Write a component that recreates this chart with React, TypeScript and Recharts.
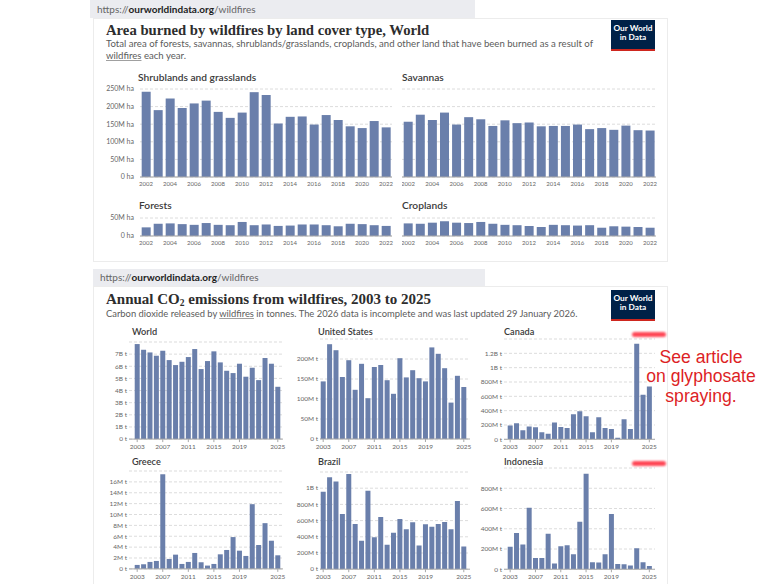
import React from "react";
import { BarChart, Bar, XAxis, YAxis, CartesianGrid } from "recharts";

// Two OWID wildfire screenshots stacked: land cover area (top), CO2 by country (bottom).

const LAND_YEARS = [
  2002, 2003, 2004, 2005, 2006, 2007, 2008, 2009, 2010, 2011, 2012, 2013, 2014,
  2015, 2016, 2017, 2018, 2019, 2020, 2021, 2022,
];
const LAND_TICKS = [2002, 2004, 2006, 2008, 2010, 2012, 2014, 2016, 2018, 2020, 2022];

const CO2_YEARS = [
  2003, 2004, 2005, 2006, 2007, 2008, 2009, 2010, 2011, 2012, 2013, 2014, 2015,
  2016, 2017, 2018, 2019, 2020, 2021, 2022, 2023, 2024, 2025,
];
const CO2_TICKS = [2003, 2007, 2011, 2015, 2019, 2025];

// million hectares
const SHRUB = [242, 190, 223, 196, 209, 217, 185, 168, 183, 241, 233, 152, 171, 172, 149, 176, 162, 144, 139, 159, 141];
const SAVANNA = [157, 177, 162, 183, 149, 170, 164, 145, 161, 153, 155, 144, 145, 145, 149, 136, 139, 134, 146, 133, 132];
const FOREST = [24, 34, 35, 33, 31, 36, 31, 30, 39, 30, 32, 28, 29, 32, 32, 30, 27, 34, 33, 30, 28];
const CROPLAND = [35, 34, 37, 41, 37, 36, 39, 34, 31, 30, 28, 25, 31, 30, 29, 30, 23, 27, 26, 25, 23];

// world in billion t, the rest in million t
const WORLD = [7.83, 7.36, 7.14, 6.87, 7.28, 6.51, 6.1, 6.37, 6.76, 7.42, 5.77, 6.43, 7.23, 6.32, 5.63, 5.44, 6.21, 5.14, 5.88, 4.86, 6.68, 6.21, 4.31];
const US = [144, 237, 222, 155, 197, 123, 188, 102, 180, 185, 147, 113, 202, 154, 172, 152, 144, 229, 213, 177, 91, 158, 130];
const CANADA = [192, 224, 126, 178, 168, 98, 79, 234, 173, 159, 350, 393, 322, 98, 308, 159, 145, 23, 280, 145, 1332, 621, 738];
const GREECE = [0.73, 0.85, 1.28, 1.46, 17.4, 1.83, 2.62, 0.91, 1.28, 2.93, 1.22, 0.61, 0.91, 2.68, 3.48, 5.85, 3.35, 2.38, 11.9, 4.39, 8.41, 5.18, 2.5];
const BRAZIL = [955, 1136, 1083, 682, 1174, 558, 351, 967, 393, 645, 302, 450, 620, 492, 579, 293, 554, 525, 558, 583, 492, 843, 281];
const INDONESIA = [221, 357, 245, 608, 112, 112, 350, 56, 228, 238, 149, 469, 942, 69, 66, 149, 545, 53, 50, 36, 208, 69, 33];

const HA_TICKS = [0, 50, 100, 150, 200, 250];
const HA_TICKS_SMALL = [0, 50];
const WORLD_TICKS = [0, 1, 2, 3, 4, 5, 6, 7];
const US_TICKS = [0, 50, 100, 150, 200];
const CANADA_TICKS = [0, 200, 400, 600, 800, 1000, 1200];
const GREECE_TICKS = [0, 2, 4, 6, 8, 10, 12, 14, 16];
const BRAZIL_TICKS = [0, 200, 400, 600, 800, 1000];
const INDONESIA_TICKS = [0, 200, 400, 600, 800];

const BAR = "#6a7fab";
const LATO = "Lato, 'Noto Sans', sans-serif";
const SERIF = "'Liberation Serif', 'DejaVu Serif', serif";

const rows = (years: number[], values: number[]) =>
  years.map((year, i) => ({ year, value: values[i] }));

const ha = (v: number) => (v === 0 ? "0 ha" : `${v}M ha`);
const bt = (v: number) => (v === 0 ? "0 t" : `${v}B t`);
const mt = (v: number) =>
  v === 0 ? "0 t" : v >= 1000 ? `${v / 1000}B t` : `${v}M t`;

type PanelProps = {
  data: { year: number; value: number }[];
  x: number;
  w: number;
  yw: number;
  plotTop: number;
  plotBottom: number;
  max: number;
  yTicks: number[];
  yFmt: (v: number) => string;
  yGap?: number;
  xTicks: number[];
  gap: string;
  xFont: number;
  yFont: number;
  padL?: number;
  padR?: number;
  tickLine?: boolean;
};

const MR = 10; // room on the right for the last year label

function Panel(p: PanelProps) {
  const top = p.plotTop - 5;
  const h = p.plotBottom - top + 16;
  // plain text so "250M ha" never wraps
  const yTick = (t: any) => (
    <text
      x={t.x}
      y={t.y}
      dy={p.yFont * 0.35}
      textAnchor="end"
      fontSize={p.yFont}
      fill="#666"
      fontFamily={LATO}
    >
      {p.yFmt(t.payload.value)}
    </text>
  );
  return (
    <div style={{ position: "absolute", left: p.x, top }}>
      <BarChart
        width={p.w + MR}
        height={h}
        data={p.data}
        margin={{ top: 5, right: MR, bottom: 0, left: 0 }}
        barCategoryGap={p.gap}
      >
        <CartesianGrid vertical={false} stroke="#dcdcdc" strokeDasharray="3 2" />
        <XAxis
          dataKey="year"
          ticks={p.xTicks}
          interval={0}
          height={16}
          padding={{ left: p.padL ?? 0, right: p.padR ?? 0 }}
          axisLine={{ stroke: "#a8a8a8" }}
          tickLine={p.tickLine ? { stroke: "#a8a8a8" } : false}
          tickSize={3}
          tickMargin={2}
          tick={{ fontSize: p.xFont, fill: "#666", fontFamily: LATO }}
        />
        <YAxis
          type="number"
          hide={p.yw === 0}
          width={p.yw}
          domain={[0, p.max]}
          ticks={p.yTicks}
          interval={0}
          allowDataOverflow
          axisLine={false}
          tickLine={false}
          tickSize={0}
          tickMargin={p.yGap ?? 6}
          tick={yTick}
        />
        <Bar dataKey="value" fill={BAR} isAnimationActive={false} />
      </BarChart>
    </div>
  );
}

function UrlBar({ x, y, w, h }: { x: number; y: number; w: number; h: number }) {
  return (
    <div
      style={{
        position: "absolute", left: x, top: y, width: w, height: h,
        background: "#ebecf0", fontFamily: LATO, fontSize: 10,
        lineHeight: `${h}px`, paddingLeft: 7, boxSizing: "border-box", color: "#666",
      }}
    >
      https://<b style={{ color: "#222" }}>ourworldindata.org</b>/wildfires
    </div>
  );
}

function Logo({ y }: { y: number }) {
  return (
    <div
      style={{
        position: "absolute", left: 611, top: y, width: 44, height: 25,
        background: "#002147", borderBottom: "2.5px solid #ce261e",
        color: "#fff", fontFamily: LATO, fontWeight: 700, fontSize: 8.3,
        lineHeight: "9px", textAlign: "center", paddingTop: 4, boxSizing: "content-box",
      }}
    >
      Our World
      <br />
      in Data
    </div>
  );
}

function Title({ x, y, size, text }: { x: number; y: number; size: number; text: string }) {
  return (
    <div
      style={{
        position: "absolute", left: x, top: y, fontFamily: LATO, fontWeight: 600,
        fontSize: size, lineHeight: 1.2, color: "#3a3a3a", whiteSpace: "nowrap",
      }}
    >
      {text}
    </div>
  );
}

function Pill({ y }: { y: number }) {
  return (
    <div
      style={{
        position: "absolute", left: 632, top: y, width: 34, height: 5,
        background: "#ff3344", borderRadius: 3, filter: "blur(1.3px)", opacity: 0.9,
      }}
    />
  );
}

const under: React.CSSProperties = {
  textDecoration: "underline",
  textDecorationColor: "#a0a0a0",
  textUnderlineOffset: 1,
};

export default function App() {
  const top = { x: 100, w: 292, yw: 40, xFont: 6, yFont: 7, gap: "14%", xTicks: LAND_TICKS };
  const right = { x: 402, w: 254, yw: 0, xFont: 6, yFont: 7, gap: "14%", xTicks: LAND_TICKS };
  const co2 = { xFont: 6.5, yFont: 6.5, gap: "11%", xTicks: CO2_TICKS, tickLine: true, yGap: 2 };
  const col1 = { x: 89, w: 194, yw: 40, padL: 5, padR: 2 };
  const col2 = { x: 280, w: 190, yw: 40, padL: 0, padR: 3 };
  const col3 = { x: 464, w: 191, yw: 40, padL: 3, padR: 2.5 };

  return (
    <div
      style={{
        position: "absolute", left: 0, top: 0, width: 760, height: 584,
        background: "#fff", overflow: "hidden", fontFamily: LATO,
      }}
    >
      {/* top screenshot */}
      <UrlBar x={90} y={0} w={385} h={18} />
      <div style={{ position: "absolute", left: 93, top: 18, width: 575, height: 244, border: "1px solid #ececec", boxSizing: "border-box" }} />
      <div style={{ position: "absolute", left: 106, top: 22.2, fontFamily: SERIF, fontWeight: 700, fontSize: 14.7, lineHeight: 1.2, color: "#2d2d2d", whiteSpace: "nowrap" }}>
        Area burned by wildfires by land cover type, World
      </div>
      <div style={{ position: "absolute", left: 106, top: 38, fontSize: 9.6, lineHeight: "12px", color: "#5b5b5b", whiteSpace: "nowrap" }}>
        Total area of forests, savannas, shrublands/grasslands, croplands, and other land that have been burned as a result of
        <br />
        <span style={under}>wildfires</span> each year.
      </div>
      <Logo y={20} />

      <Title x={138} y={70.5} size={10.2} text="Shrublands and grasslands" />
      <Title x={402} y={70.5} size={10.2} text="Savannas" />
      <Title x={139} y={199.2} size={10.2} text="Forests" />
      <Title x={402} y={199.2} size={10.2} text="Croplands" />

      <Panel {...top} data={rows(LAND_YEARS, SHRUB)} plotTop={89} plotBottom={177} max={250} yTicks={HA_TICKS} yFmt={ha} />
      <Panel {...right} data={rows(LAND_YEARS, SAVANNA)} plotTop={89} plotBottom={177} max={250} yTicks={HA_TICKS} yFmt={ha} />
      <Panel {...top} data={rows(LAND_YEARS, FOREST)} plotTop={218} plotBottom={236} max={50} yTicks={HA_TICKS_SMALL} yFmt={ha} />
      <Panel {...right} data={rows(LAND_YEARS, CROPLAND)} plotTop={218} plotBottom={236} max={50} yTicks={HA_TICKS_SMALL} yFmt={ha} />

      {/* bottom screenshot */}
      <UrlBar x={93} y={269} w={392} h={17} />
      <div style={{ position: "absolute", left: 93, top: 286, width: 575, height: 310, border: "1px solid #ececec", boxSizing: "border-box" }} />
      <div style={{ position: "absolute", left: 106, top: 290.4, fontFamily: SERIF, fontWeight: 700, fontSize: 15, lineHeight: 1.2, color: "#2d2d2d", whiteSpace: "nowrap" }}>
        Annual CO<sub style={{ fontSize: 9.5, verticalAlign: "-2px" }}>2</sub> emissions from wildfires, 2003 to 2025
      </div>
      <div style={{ position: "absolute", left: 106, top: 307.5, fontSize: 9.4, lineHeight: "12px", color: "#5b5b5b", whiteSpace: "nowrap" }}>
        Carbon dioxide released by <span style={under}>wildfires</span> in tonnes. The 2026 data is incomplete and was last updated 29 January 2026.
      </div>
      <Logo y={290} />

      <Title x={132} y={326.3} size={9.2} text="World" />
      <Title x={318} y={326.3} size={9.2} text="United States" />
      <Title x={504} y={326.3} size={9.2} text="Canada" />
      <Title x={132} y={456.3} size={9.2} text="Greece" />
      <Title x={318} y={456.3} size={9.2} text="Brazil" />
      <Title x={504} y={456.3} size={9.2} text="Indonesia" />

      <Panel {...co2} {...col1} data={rows(CO2_YEARS, WORLD)} plotTop={341.9} plotBottom={439} max={8} yTicks={WORLD_TICKS} yFmt={bt} />
      <Panel {...co2} {...col2} data={rows(CO2_YEARS, US)} plotTop={339} plotBottom={439} max={250} yTicks={US_TICKS} yFmt={mt} />
      <Panel {...co2} {...col3} data={rows(CO2_YEARS, CANADA)} plotTop={338.7} plotBottom={439} max={1400} yTicks={CANADA_TICKS} yFmt={mt} />
      <Panel {...co2} {...col1} data={rows(CO2_YEARS, GREECE)} plotTop={471.1} plotBottom={569} max={18} yTicks={GREECE_TICKS} yFmt={mt} />
      <Panel {...co2} {...col2} data={rows(CO2_YEARS, BRAZIL)} plotTop={471.8} plotBottom={569} max={1200} yTicks={BRAZIL_TICKS} yFmt={mt} />
      <Panel {...co2} {...col3} data={rows(CO2_YEARS, INDONESIA)} plotTop={467.75} plotBottom={569} max={1000} yTicks={INDONESIA_TICKS} yFmt={mt} />

      <Pill y={332} />
      <Pill y={461} />
      <div
        style={{
          position: "absolute", left: 640, top: 347.5, width: 122, textAlign: "center",
          fontFamily: "'Liberation Sans', Arial, sans-serif", fontSize: 17.6,
          lineHeight: "19.5px", color: "#dd1f26",
        }}
      >
        See article
        <br />
        on glyphosate
        <br />
        spraying.
      </div>
    </div>
  );
}
